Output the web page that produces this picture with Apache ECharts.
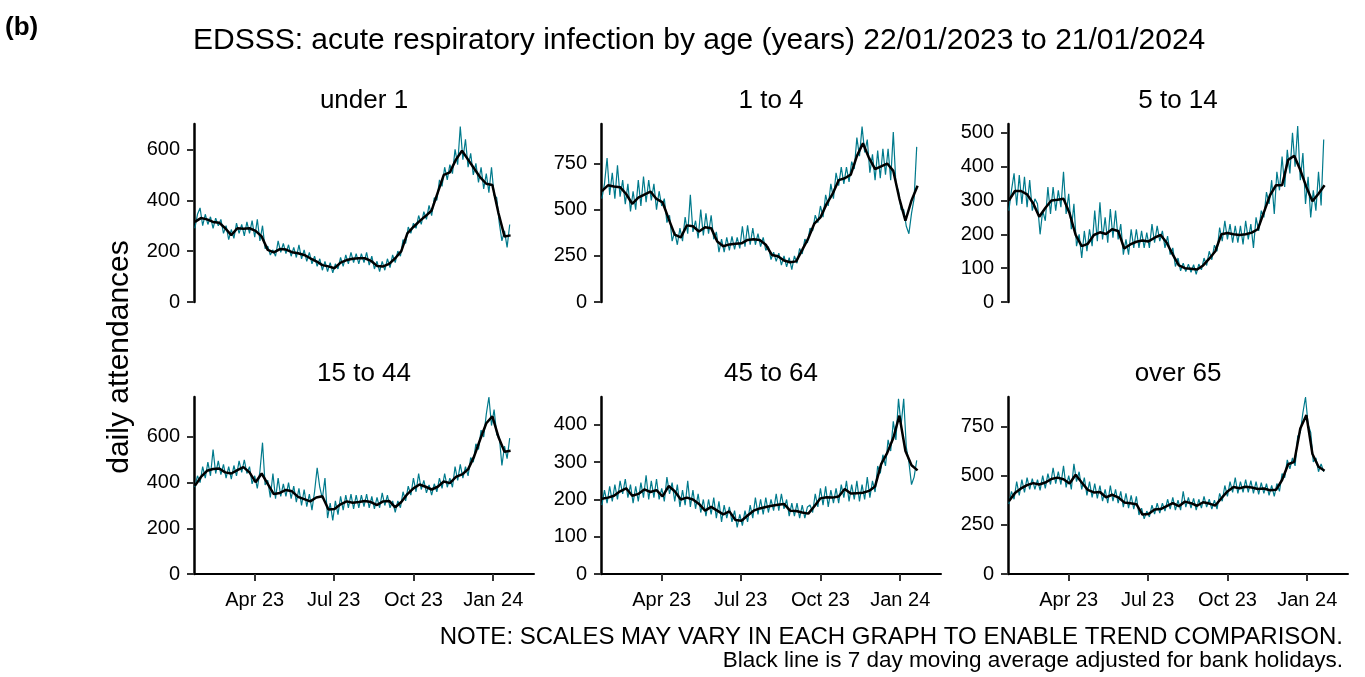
<!DOCTYPE html>
<html>
<head>
<meta charset="utf-8">
<title>EDSSS acute respiratory infection by age</title>
<script src="https://cdn.jsdelivr.net/npm/echarts@6/dist/echarts.min.js"></script>
<style>
  html, body { margin: 0; padding: 0; background: #fff; }
  #chart { width: 1365px; height: 677px; }
</style>
</head>
<body>
<div id="chart"></div>
<script>
// daily counts, one value every 3rd day from 22/01/2023
const dailyUnder1 = [290,345,370,300,345,305,335,290,330,300,325,270,300,245,285,250,310,270,305,260,315,270,320,255,325,240,300,210,220,185,205,180,240,195,230,190,225,180,215,175,225,170,205,160,195,150,180,140,170,125,160,120,155,115,150,130,175,140,185,150,195,155,190,150,190,155,195,145,180,130,160,120,160,125,170,135,185,155,200,180,245,230,295,270,310,290,340,305,355,325,380,340,410,400,480,455,530,480,540,505,600,540,690,560,640,530,585,500,545,470,530,445,505,430,530,420,410,310,240,280,215,305];
const daily1to4 = [560,640,780,580,700,560,740,570,660,530,640,490,600,500,660,520,680,540,660,550,640,500,600,520,560,430,470,330,380,310,400,330,460,370,580,380,440,345,500,360,480,370,470,340,380,270,340,270,350,280,355,285,350,290,410,300,415,310,400,310,370,300,350,280,300,230,270,220,265,200,250,190,240,175,250,210,290,260,340,320,400,385,470,430,520,460,580,520,640,560,700,630,730,640,730,650,760,720,890,790,950,810,880,700,800,660,820,670,830,690,830,660,920,640,600,500,500,410,370,480,560,840];
const daily5to14 = [270,330,380,285,375,290,370,280,360,270,305,290,200,270,240,340,260,340,270,330,280,385,260,320,215,290,165,200,130,210,150,215,165,270,180,295,185,250,175,275,190,270,185,230,140,185,140,215,160,215,160,210,160,205,160,230,175,225,180,210,160,195,140,160,105,130,92,115,90,112,88,110,82,112,95,130,108,150,125,168,150,220,180,240,185,230,175,225,175,225,170,240,185,230,160,250,210,270,250,325,290,360,260,385,330,430,340,450,380,500,400,520,360,440,290,370,250,330,270,385,285,480];
const daily15to44 = [380,430,400,470,420,490,430,545,440,495,435,480,420,470,415,475,430,495,445,500,440,470,395,430,375,450,575,390,410,335,440,330,420,340,395,340,400,330,385,315,375,300,370,295,350,280,360,465,380,330,420,245,310,235,320,260,340,280,345,290,350,285,345,290,345,295,350,290,340,285,335,290,355,300,345,290,320,270,320,290,360,320,385,345,420,360,440,370,410,355,390,345,395,360,420,375,440,380,420,380,470,410,480,420,470,430,510,490,570,545,630,600,700,775,650,720,610,600,475,560,505,595];
const daily45to64 = [185,225,190,235,195,240,200,250,215,255,205,240,190,235,195,245,205,265,200,250,205,255,200,230,195,260,215,245,195,240,180,225,185,250,180,225,175,215,165,200,155,200,160,205,150,195,140,185,150,180,140,170,125,160,130,170,140,185,150,205,160,200,160,205,165,200,170,215,170,215,175,200,155,190,155,190,150,185,150,180,185,165,215,180,230,185,235,180,225,190,230,190,240,205,250,195,240,200,250,195,240,200,260,205,250,220,290,270,320,290,360,330,410,360,470,400,470,340,300,240,260,305];
const dailyOver65 = [355,420,380,470,400,480,415,490,430,485,430,480,425,500,435,510,455,540,460,520,455,550,440,500,430,560,470,520,430,490,400,470,390,460,385,450,370,430,360,450,370,430,360,420,340,410,335,400,330,395,300,335,280,320,290,350,305,360,310,360,320,380,330,390,325,375,325,420,340,390,335,385,325,380,335,395,340,380,330,375,330,410,370,450,395,470,415,490,410,470,415,480,415,475,410,470,405,465,410,460,400,450,395,460,420,510,490,580,535,590,550,700,720,820,900,760,720,570,590,520,560,520];

// 7 day moving average, one value every 7th day from 22/01/2023
const avgUnder1 = [315,330,325,315,312,290,263,290,288,290,280,258,205,195,208,206,196,192,185,172,160,145,140,133,155,165,170,172,172,162,142,140,150,172,200,270,295,318,338,360,430,500,510,560,595,560,525,490,465,460,350,258,262];
const avg1to4 = [600,632,625,622,585,532,565,582,598,558,540,450,365,350,415,410,382,405,400,328,302,312,315,318,336,340,336,310,255,248,225,215,220,282,345,425,458,530,585,660,670,690,790,860,780,720,735,750,710,560,440,550,630];
const avg5to14 = [300,328,328,318,292,252,278,300,302,305,262,198,165,172,198,206,201,215,210,158,170,178,182,179,190,198,175,140,108,100,98,96,108,128,150,200,204,200,198,200,205,215,265,315,345,345,420,432,390,340,298,320,345];
const avg15to44 = [386,425,452,460,462,445,440,455,468,445,402,440,395,350,355,368,362,338,328,318,335,340,282,285,305,318,312,315,320,315,302,318,320,292,315,350,375,392,382,370,382,405,398,425,436,458,515,590,660,690,600,535,540];
const avg45to64 = [202,205,210,222,230,210,215,227,220,225,208,236,222,200,205,200,188,170,180,170,160,168,145,143,157,170,176,180,183,186,188,170,169,165,162,182,203,206,205,208,228,216,217,218,223,235,295,325,365,425,330,292,278];
const avgOver65 = [370,412,435,452,462,455,465,483,490,482,460,505,465,428,415,417,390,403,390,364,360,355,302,305,328,330,345,360,345,368,360,347,365,358,348,385,420,442,436,444,440,432,435,426,428,478,558,570,740,808,610,545,525];

const panelTitles = ['under 1', '1 to 4', '5 to 14', '15 to 44', '45 to 64', 'over 65'];
const yTickValues = [
    [0, 200, 400, 600],
    [0, 250, 500, 750],
    [0, 100, 200, 300, 400, 500],
    [0, 200, 400, 600],
    [0, 100, 200, 300, 400],
    [0, 250, 500, 750]
];
const yMax = [700, 964, 526, 775, 475, 900];
const dateTicks = ['2023-04-01', '2023-07-01', '2023-10-01', '2024-01-01'];
const monthNames = ['Jan','Feb','Mar','Apr','May','Jun','Jul','Aug','Sep','Oct','Nov','Dec'];

const dailySeries = [dailyUnder1, daily1to4, daily5to14, daily15to44, daily45to64, dailyOver65];
const avgSeries = [avgUnder1, avg1to4, avg5to14, avg15to44, avg45to64, avgOver65];

const TEAL = '#007A8C';
const FONT = '"Liberation Sans", Arial, sans-serif';
const DAY_MS = 86400000;
const gridLeft = [194, 601, 1008];
const gridTop = [124, 397];
const gridHeight = [178, 177];
const gridWidth = 340;

// x is counted in days from 22/01/2023
const startTime = Date.UTC(2023, 0, 22);

function dayOf(str) {
    const p = str.split('-').map(Number);
    return Math.round((Date.UTC(p[0], p[1] - 1, p[2]) - startTime) / DAY_MS);
}

function dayLabel(day) {
    const d = new Date(startTime + day * DAY_MS);
    return monthNames[d.getUTCMonth()] + ' ' + String(d.getUTCFullYear()).slice(2);
}

function toPoints(values, step) {
    return values.map((v, i) => [i * step, v]);
}

function textEl(x, y, text, font, align, extra) {
    return Object.assign({
        type: 'text', x: x, y: y,
        style: { text: text, font: font, fill: '#000', align: align, verticalAlign: 'middle' }
    }, extra || {});
}

function buildOptions() {
    const grids = [], xAxes = [], yAxes = [], series = [], graphics = [];
    const tickDays = dateTicks.map(dayOf);

    for (let i = 0; i < 6; i++) {
        const row = Math.floor(i / 3);
        const col = i % 3;

        grids.push({
            left: gridLeft[col],
            top: gridTop[row],
            width: gridWidth,
            height: gridHeight[row],
            containLabel: false
        });

        xAxes.push({
            type: 'value',
            gridIndex: i,
            min: dayOf('2023-01-21'),
            max: dayOf('2024-02-17'),
            show: row === 1,
            splitLine: { show: false },
            axisLine: { show: true, onZero: false, lineStyle: { color: '#000', width: 2 } },
            axisTick: {
                show: true,
                customValues: tickDays,
                length: 7,
                lineStyle: { color: '#333', width: 2 }
            },
            axisLabel: {
                customValues: tickDays,
                color: '#000',
                fontSize: 20,
                fontFamily: FONT,
                margin: 16,
                formatter: dayLabel
            }
        });

        yAxes.push({
            type: 'value',
            gridIndex: i,
            min: 0,
            max: yMax[i],
            splitLine: { show: false },
            axisLine: { show: true, onZero: false, lineStyle: { color: '#000', width: 2.5 } },
            axisTick: {
                show: true,
                customValues: yTickValues[i],
                length: 7,
                lineStyle: { color: '#333', width: 2 }
            },
            axisLabel: {
                customValues: yTickValues[i],
                color: '#000',
                fontSize: 20,
                fontFamily: FONT,
                margin: 14
            }
        });

        series.push({
            name: panelTitles[i] + ' daily',
            type: 'line',
            xAxisIndex: i,
            yAxisIndex: i,
            data: toPoints(dailySeries[i], 3),
            symbol: 'none',
            lineStyle: { color: TEAL, width: 1.2 },
            z: 2,
            silent: true
        });
        series.push({
            name: panelTitles[i] + ' 7 day average',
            type: 'line',
            xAxisIndex: i,
            yAxisIndex: i,
            data: toPoints(avgSeries[i], 7),
            symbol: 'none',
            lineStyle: { color: '#000', width: 2.5 },
            z: 3,
            silent: true
        });

        graphics.push(textEl(gridLeft[col] + gridWidth / 2, gridTop[row] - 23,
            panelTitles[i], '26px ' + FONT, 'center'));
    }

    graphics.push(
        textEl(5, 28, '(b)', 'bold 26px ' + FONT, 'left'),
        textEl(193, 41, 'EDSSS: acute respiratory infection by age (years) 22/01/2023 to 21/01/2024',
            '30px ' + FONT, 'left'),
        textEl(120, 357, 'daily attendances', '30px ' + FONT, 'center', { rotation: Math.PI / 2 }),
        textEl(1343, 637, 'NOTE: SCALES MAY VARY IN EACH GRAPH TO ENABLE TREND COMPARISON.',
            '24px ' + FONT, 'right'),
        textEl(1343, 661, 'Black line is 7 day moving average adjusted for bank holidays.',
            '22.5px ' + FONT, 'right')
    );

    return {
        backgroundColor: '#fff',
        animation: false,
        grid: grids,
        xAxis: xAxes,
        yAxis: yAxes,
        series: series,
        graphic: graphics
    };
}

const chart = echarts.init(document.getElementById('chart'), null, { renderer: 'canvas' });
chart.setOption(buildOptions());
</script>
</body>
</html>
